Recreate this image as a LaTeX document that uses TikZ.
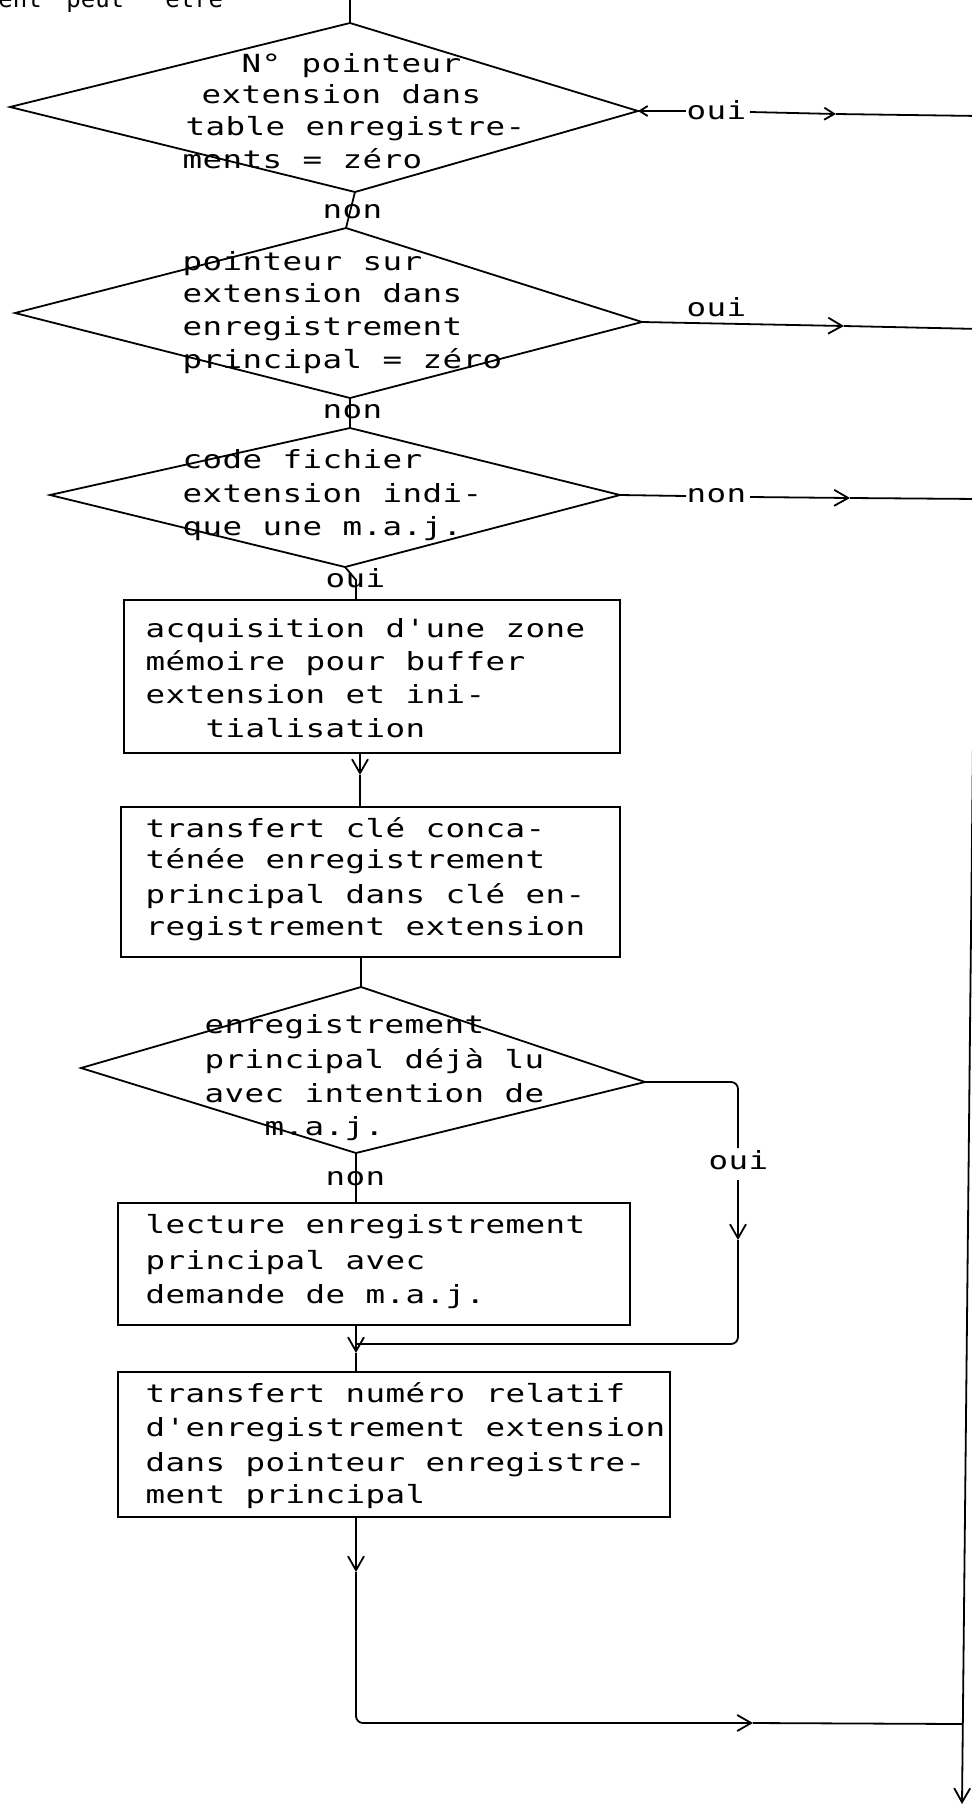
\documentclass[tikz,border=0pt]{standalone}
\usepackage{fontspec}
\usetikzlibrary{arrows.meta}
\newfontfamily\monofam{DejaVu Sans Mono}[FakeStretch=1.3]
\newfontfamily\cutfam{DejaVu Sans Mono}
\ExplSyntaxOn
\NewDocumentCommand\tw{m}{\str_map_inline:nn {#1} {\makebox[10pt][c]{##1}}}
\ExplSyntaxOff
\tikzset{
  txt/.style={anchor=base west, inner sep=0pt, font=\monofam\fontsize{12.5pt}{14pt}\selectfont},
  cuttxt/.style={anchor=base west, inner sep=0pt, font=\cutfam\fontsize{12pt}{14pt}\selectfont},
  ln/.style={line width=0.9pt},
  tip/.style={-{Straight Barb[length=7pt,width=8pt]}},
  smalltip/.style={-{Straight Barb[length=5pt,width=6pt]}},
  boxst/.style={draw, line width=0.9pt, inner sep=0pt},
}
\begin{document}
\begin{tikzpicture}[x=0.5pt,y=-0.5pt]
\useasboundingbox (0,0) rectangle (972,1805);
\fill[white] (0,0) rectangle (972,1805);
\clip (0,0) rectangle (972,1805);

% cut-off text at the top
\node[cuttxt] (cut1) at (-2,7) {ent};
\node[cuttxt] (cut2) at (66,7) {peut};
\node[cuttxt] (cut3) at (165,7) {être};

% diamond corners
\coordinate (d1t) at (350,23);  \coordinate (d1l) at (10,107);
\coordinate (d1r) at (638,111); \coordinate (d1b) at (355,192);
\coordinate (d2t) at (346,228); \coordinate (d2l) at (15,313);
\coordinate (d2r) at (642,322); \coordinate (d2b) at (350,398);
\coordinate (d3t) at (350,428); \coordinate (d3l) at (50,495);
\coordinate (d3r) at (620,495); \coordinate (d3b) at (345,567);
\coordinate (d4t) at (361,987); \coordinate (d4l) at (81,1068);
\coordinate (d4r) at (645,1082);\coordinate (d4b) at (356,1153);

\draw[ln] (d1t) -- (d1r) -- (d1b) -- (d1l) -- cycle;
\draw[ln] (d2t) -- (d2r) -- (d2b) -- (d2l) -- cycle;
\draw[ln] (d3t) -- (d3r) -- (d3b) -- (d3l) -- cycle;
\draw[ln] (d4t) -- (d4r) -- (d4b) -- (d4l) -- cycle;

% boxes
\node[boxst, minimum width=248pt, minimum height=76.5pt] (b1) at (372,676.5) {};
\node[boxst, minimum width=249.5pt, minimum height=75pt] (b2) at (370.5,882) {};
\node[boxst, minimum width=256pt, minimum height=61pt] (b3) at (374,1264) {};
\node[boxst, minimum width=276pt, minimum height=72.5pt] (b4) at (394,1444.5) {};

% texts
\node[txt] (t1a) at (241,72) {\tw{N° pointeur}};
\node[txt] (t1b) at (201,103) {\tw{extension dans}};
\node[txt] (t1c) at (185,135) {\tw{table enregistre-}};
\node[txt] (t1d) at (182,168) {\tw{ments = zéro}};

\node[txt] (t2a) at (182,270) {\tw{pointeur sur}};
\node[txt] (t2b) at (182,302) {\tw{extension dans}};
\node[txt] (t2c) at (182,335) {\tw{enregistrement}};
\node[txt] (t2d) at (182,368) {\tw{principal = zéro}};

\node[txt] (t3a) at (182,468) {\tw{code fichier}};
\node[txt] (t3b) at (182,502) {\tw{extension indi-}};
\node[txt] (t3c) at (182,535) {\tw{que une m.a.j.}};

\node[txt] (t4a) at (145,637) {\tw{acquisition d'une zone}};
\node[txt] (t4b) at (145,670) {\tw{mémoire pour buffer}};
\node[txt] (t4c) at (145,703) {\tw{extension et ini-}};
\node[txt] (t4d) at (205,737) {\tw{tialisation}};

\node[txt] (t5a) at (145,837) {\tw{transfert clé conca-}};
\node[txt] (t5b) at (145,868) {\tw{ténée enregistrement}};
\node[txt] (t5c) at (145,903) {\tw{principal dans clé en-}};
\node[txt] (t5d) at (145,935) {\tw{registrement extension}};

\node[txt] (t6a) at (204,1033) {\tw{enregistrement}};
\node[txt] (t6b) at (204,1068) {\tw{principal déjà lu}};
\node[txt] (t6c) at (204,1102) {\tw{avec intention de}};
\node[txt] (t6d) at (264,1135) {\tw{m.a.j.}};

\node[txt] (t7a) at (145,1233) {\tw{lecture enregistrement}};
\node[txt] (t7b) at (145,1269) {\tw{principal avec}};
\node[txt] (t7c) at (145,1303) {\tw{demande de m.a.j.}};

\node[txt] (t8a) at (145,1402) {\tw{transfert numéro relatif}};
\node[txt] (t8b) at (145,1436) {\tw{d'enregistrement extension}};
\node[txt] (t8c) at (145,1471) {\tw{dans pointeur enregistre-}};
\node[txt] (t8d) at (145,1503) {\tw{ment principal}};

% labels
\node[txt] (l1n) at (322,218) {\tw{non}};
\node[txt] (l2n) at (322,418) {\tw{non}};
\node[txt] (l3o) at (325,587) {\tw{oui}};
\node[txt] (l1o) at (686,119) {\tw{oui}};
\node[txt] (l2o) at (686,316) {\tw{oui}};
\node[txt] (l3n) at (686,502) {\tw{non}};
\node[txt] (l4n) at (325,1185) {\tw{non}};
\node[txt] (l4o) at (708,1169) {\tw{oui}};

% main flow connectors
\coordinate (top) at (350,-10);
\draw[ln] (top) -- (d1t);
\draw[ln] (d1b) -- (d2t);
\draw[ln] (d2b) -- (d3t);
\coordinate (c3) at (356,580);
\draw[ln] (d3b) -- (c3) -- (b1.north -| c3);
\coordinate (m1) at (360,775);
\draw[ln,tip] (b1.south -| m1) -- (m1);
\draw[ln] (m1) -- (b2.north -| m1);
\draw[ln] (b2.south -| d4t) -- (d4t);
\draw[ln] (d4b) -- (b3.north -| d4b);
\coordinate (m3) at (356,1353);
\draw[ln,tip] (b3.south -| m3) -- (m3);
\draw[ln] (m3) -- (b4.north -| m3);
\coordinate (m4) at (356,1572);
\draw[ln,tip] (b4.south -| m4) -- (m4);
\coordinate (h4) at (753,1723);
\draw[ln,tip,rounded corners=3.5pt] (m4) |- (h4);
\coordinate (j4) at (962,1724);
\draw[ln] (h4) -- (j4);

% oui branch of the fourth test
\coordinate (o1) at (738,1148);
\draw[ln,rounded corners=3.5pt] (d4r) -| (o1);
\coordinate (o2) at (738,1180);
\coordinate (o3) at (738,1240);
\draw[ln,tip] (o2) -- (o3);
\coordinate (j3) at (356,1344);
\draw[ln,rounded corners=3.5pt] (o3) |- (j3);

% exits to the right
\coordinate (r1a) at (686,111);
\draw[ln,-{Straight Barb[length=4pt,width=5pt]}] (r1a) -- (d1r);
\coordinate (r1b) at (750,112);
\coordinate (r1m) at (836,114);
\coordinate (r1e) at (980,116);
\draw[ln,smalltip] (r1b) -- (r1m);
\draw[ln] (r1m) -- (r1e);

\coordinate (r2m) at (844,326);
\coordinate (r2e) at (980,329);
\draw[ln,tip] (d2r) -- (r2m);
\draw[ln] (r2m) -- (r2e);

\coordinate (r3a) at (686,496);
\coordinate (r3b) at (750,497);
\coordinate (r3m) at (850,498);
\coordinate (r3e) at (980,499);
\draw[ln] (d3r) -- (r3a);
\draw[ln,tip] (r3b) -- (r3m);
\draw[ln] (r3m) -- (r3e);

% right-hand return line
\coordinate (rv1) at (979.5,112);
\coordinate (rv2) at (962,1804);
\draw[ln,tip] (rv1) -- (rv2);
\end{tikzpicture}
\end{document}
